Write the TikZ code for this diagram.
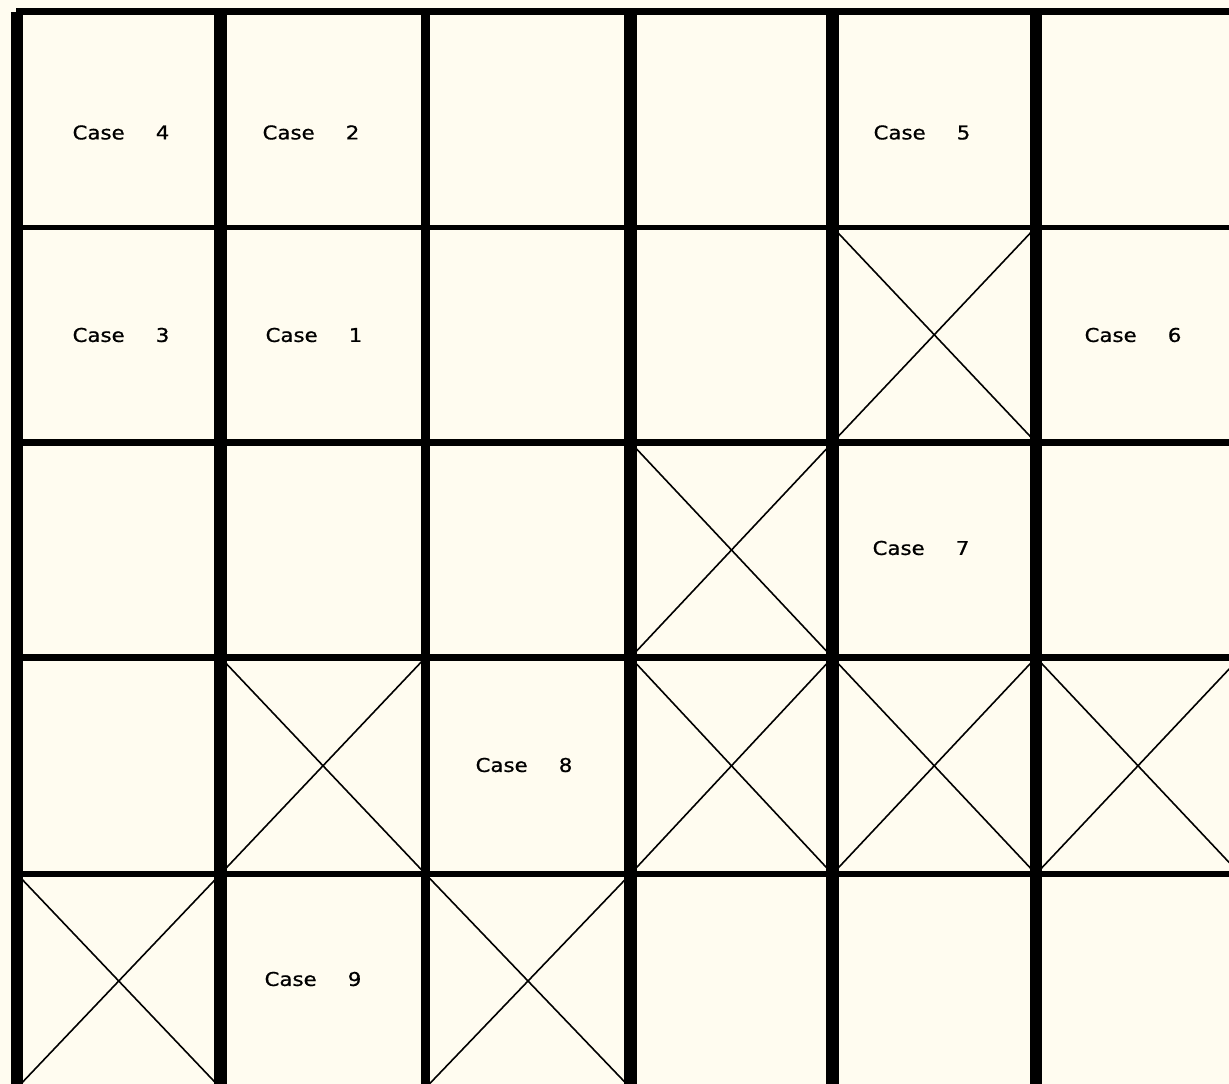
\documentclass[tikz,border=0pt]{standalone}
\usepackage{fontspec}
\usepackage{graphicx}
\newfontfamily\casefont[WordSpace=4.6,FakeBold=0.8]{DejaVu Sans}
\definecolor{cream}{RGB}{255,252,240}
\newcommand{\caselbl}[1]{\scalebox{1.12}[1]{#1}}
\begin{document}
\begin{tikzpicture}[x=1pt,y=-1pt,
  vline/.style={line width=#1, line cap=butt},
  hline/.style={line width=#1, line cap=butt},
  cross/.style={line width=1.6pt},
  label/.style={font=\casefont\fontsize{19}{21}\selectfont, inner sep=0pt, text=black}]
\useasboundingbox (0,0) rectangle (1229,1084);
\fill[cream] (0,0) rectangle (1229,1084);
\begin{scope}
\clip (0,0) rectangle (1229,1084);
% grid coordinates
\foreach \n/\x in {0/17,1/220.5,2/425.5,3/630.5,4/832.5,5/1036,6/1240}
  \coordinate (X\n) at (\x,0);
\foreach \n/\y in {0/11.5,1/227,2/442.5,3/657.5,4/874,5/1088}
  \coordinate (Y\n) at (0,\y);
% crosses (col,row) zero-based
\foreach \c/\r in {4/1, 3/2, 1/3, 3/3, 4/3, 5/3, 0/4, 2/4}{
  \pgfmathtruncatemacro{\cc}{\c+1}
  \pgfmathtruncatemacro{\rr}{\r+1}
  \draw[cross] (X\c |- Y\r) -- (X\cc |- Y\rr);
  \draw[cross] (X\c |- Y\rr) -- (X\cc |- Y\r);
}
% horizontal lines
\draw[hline=7pt] (X0 |- Y0) ++(-1,0) -- (1229,11.5);
\draw[hline=5pt] (X0 |- Y1) -- (1229,227);
\draw[hline=7pt] (X0 |- Y2) -- (1229,442.5);
\draw[hline=7pt] (X0 |- Y3) -- (1229,657.5);
\draw[hline=6pt] (X0 |- Y4) -- (1229,874);
% vertical lines
\draw[vline=12pt] (X0 |- Y0) -- (17,1084);
\draw[vline=13pt] (X1 |- Y0) -- (220.5,1084);
\draw[vline=9pt]  (X2 |- Y0) -- (425.5,1084);
\draw[vline=13pt] (X3 |- Y0) -- (630.5,1084);
\draw[vline=13pt] (X4 |- Y0) -- (832.5,1084);
\draw[vline=12pt] (X5 |- Y0) -- (1036,1084);
\end{scope}
% labels
\node[label] (c4) at (121,132.5) {\caselbl{Case 4}};
\node[label] (c2) at (311,132.5) {\caselbl{Case 2}};
\node[label] (c5) at (922,132.5) {\caselbl{Case 5}};
\node[label] (c3) at (121,335) {\caselbl{Case 3}};
\node[label] (c1) at (314,335) {\caselbl{Case 1}};
\node[label] (c6) at (1133,335) {\caselbl{Case 6}};
\node[label] (c7) at (921,548) {\caselbl{Case 7}};
\node[label] (c8) at (524,765) {\caselbl{Case 8}};
\node[label] (c9) at (313,979) {\caselbl{Case 9}};
\end{tikzpicture}
\end{document}
